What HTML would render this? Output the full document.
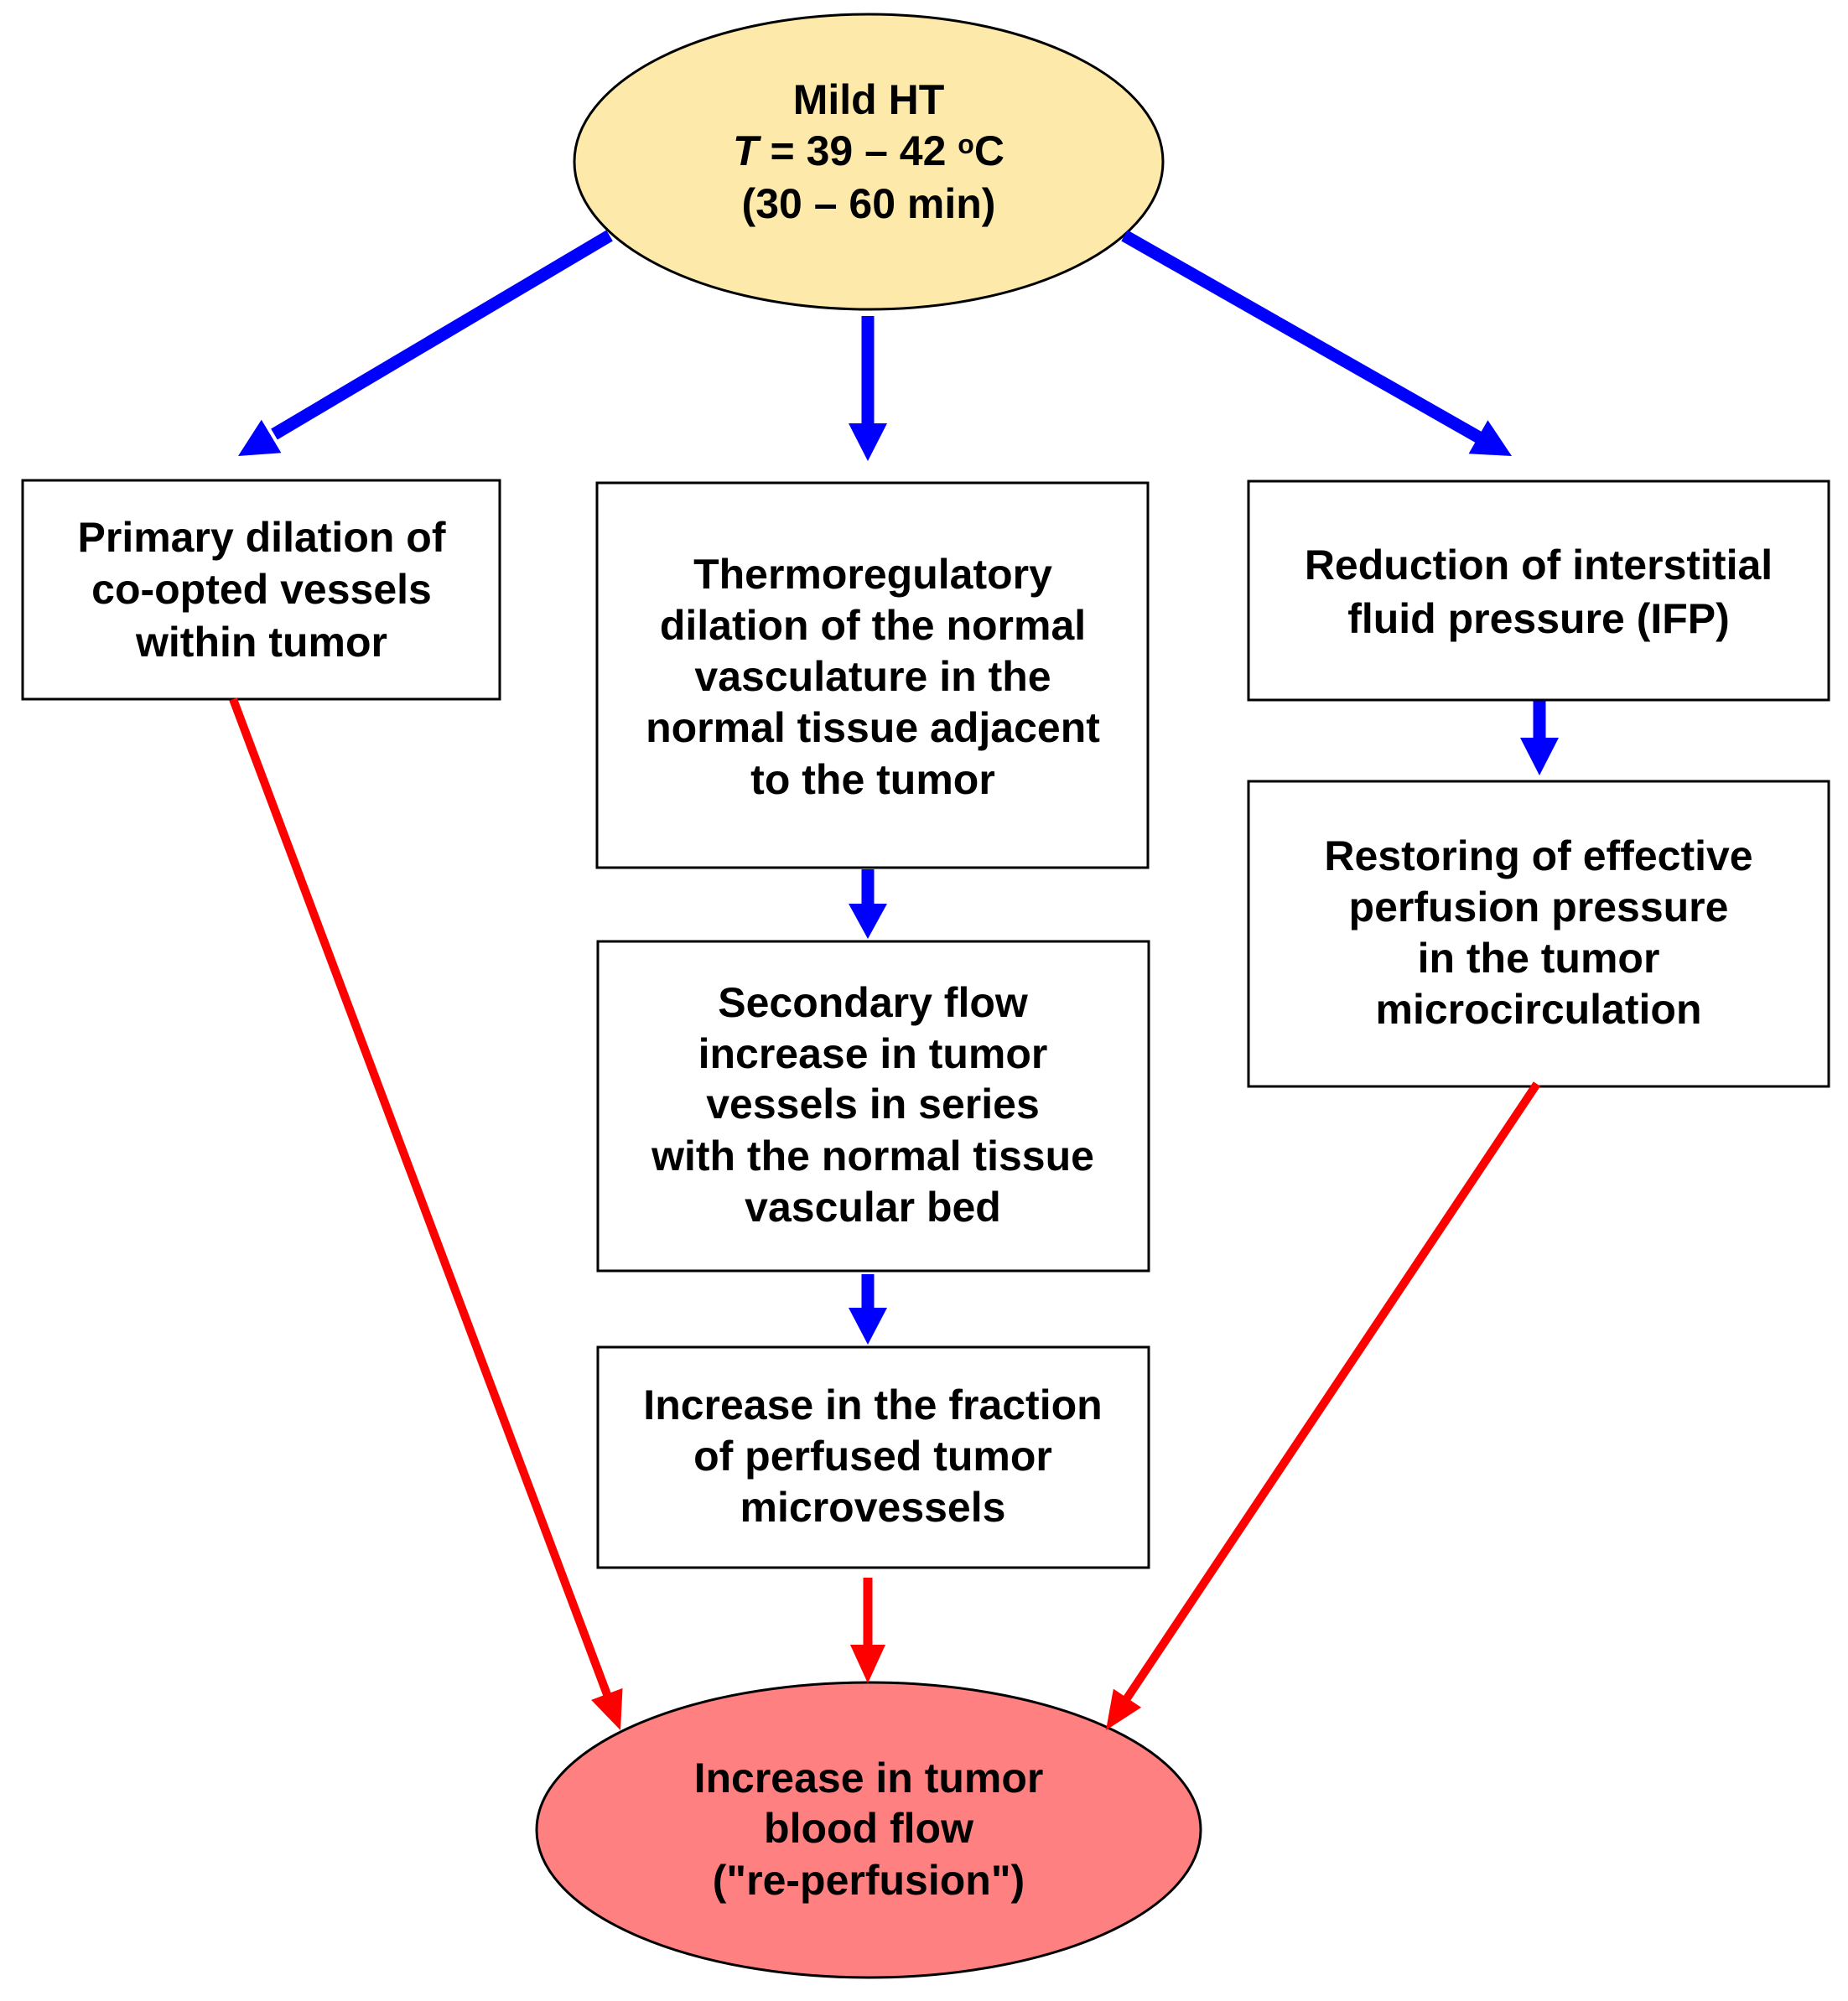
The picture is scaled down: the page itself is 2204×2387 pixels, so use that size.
<!DOCTYPE html>
<html><head><meta charset="utf-8"><style>
html,body{margin:0;padding:0;background:#fff;}
svg{display:block;}
text{font-family:"Liberation Sans",Arial,sans-serif;font-weight:bold;font-size:50px;fill:#000;text-anchor:middle;}
</style></head><body>
<svg width="2204" height="2387" viewBox="0 0 2204 2387" xmlns="http://www.w3.org/2000/svg">
<rect width="2204" height="2387" fill="#fff"/>
<!-- top ellipse -->
<ellipse cx="1036" cy="193" rx="351" ry="176" fill="#FDE9A9" stroke="#000" stroke-width="3"/>
<text x="1036" y="136">Mild HT</text>
<text x="1036" y="197"><tspan font-style="italic">T</tspan> = 39 – 42 <tspan font-size="32" dy="-14">o</tspan><tspan dy="14">C</tspan></text>
<text x="1036" y="260">(30 – 60 min)</text>

<!-- blue arrows -->
<g fill="#0000ff" stroke="none">
<line x1="727" y1="281" x2="327" y2="518" stroke="#0000ff" stroke-width="15"/>
<polygon points="284,544 335.4,540.3 311.8,500.7"/>
<line x1="1341" y1="281" x2="1766" y2="523" stroke="#0000ff" stroke-width="15"/>
<polygon points="1803,544 1751.6,541.2 1774.4,501.2"/>
<line x1="1035" y1="377" x2="1035" y2="507" stroke="#0000ff" stroke-width="15"/>
<polygon points="1012,505 1058,505 1035,550"/>
<line x1="1035" y1="1037" x2="1035" y2="1080" stroke="#0000ff" stroke-width="15"/>
<polygon points="1012,1078 1058,1078 1035,1120"/>
<line x1="1836" y1="835" x2="1836" y2="882" stroke="#0000ff" stroke-width="15"/>
<polygon points="1813,880 1859,880 1836,925"/>
<line x1="1035" y1="1520" x2="1035" y2="1562" stroke="#0000ff" stroke-width="15"/>
<polygon points="1012,1560 1058,1560 1035,1604"/>
</g>

<!-- boxes -->
<g fill="#fff" stroke="#000" stroke-width="3">
<rect x="27" y="573" width="569" height="261"/>
<rect x="712" y="576" width="657" height="459"/>
<rect x="1489" y="574" width="692" height="261"/>
<rect x="1489" y="932" width="692" height="364"/>
<rect x="713" y="1123" width="657" height="393"/>
<rect x="713" y="1607" width="657" height="263"/>
</g>

<text x="312" y="658">Primary dilation of</text>
<text x="312" y="720">co-opted vessels</text>
<text x="312" y="783">within tumor</text>

<text x="1041" y="702">Thermoregulatory</text>
<text x="1041" y="763">dilation of the normal</text>
<text x="1041" y="824">vasculature in the</text>
<text x="1041" y="885">normal tissue adjacent</text>
<text x="1041" y="947">to the tumor</text>

<text x="1835" y="691">Reduction of interstitial</text>
<text x="1835" y="755">fluid pressure (IFP)</text>

<text x="1835" y="1038">Restoring of effective</text>
<text x="1835" y="1099">perfusion pressure</text>
<text x="1835" y="1160">in the tumor</text>
<text x="1835" y="1221">microcirculation</text>

<text x="1041" y="1213">Secondary flow</text>
<text x="1041" y="1274">increase in tumor</text>
<text x="1041" y="1334">vessels in series</text>
<text x="1041" y="1396">with the normal tissue</text>
<text x="1041" y="1457">vascular bed</text>

<text x="1041" y="1693">Increase in the fraction</text>
<text x="1041" y="1754">of perfused tumor</text>
<text x="1041" y="1815">microvessels</text>

<!-- bottom ellipse -->
<ellipse cx="1036" cy="2183" rx="396" ry="176" fill="#FF8080" stroke="#000" stroke-width="3"/>

<!-- red arrows -->
<g fill="#ff0000">
<line x1="278" y1="834" x2="725" y2="2024" stroke="#ff0000" stroke-width="10"/>
<polygon points="740,2064 705.1,2027.9 742.5,2013.9"/>
<line x1="1833" y1="1293" x2="1342" y2="2029" stroke="#ff0000" stroke-width="10"/>
<polygon points="1319,2064 1327.9,2014.6 1361.1,2036.8"/>
<line x1="1035" y1="1882" x2="1035" y2="1964" stroke="#ff0000" stroke-width="11"/>
<polygon points="1014,1962 1056,1962 1035,2008"/>
</g>

<text x="1036" y="2138">Increase in tumor</text>
<text x="1036" y="2198">blood flow</text>
<text x="1036" y="2260">("re-perfusion")</text>
</svg>
</body></html>
